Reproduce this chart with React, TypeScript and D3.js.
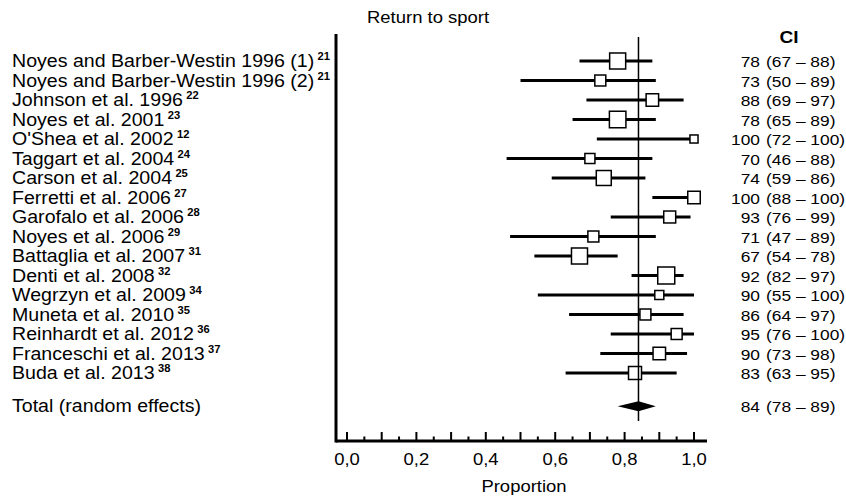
import React from "react";
import * as d3 from "d3";

// studies, in the order they appear
const studies = [
  "Noyes and Barber-Westin 1996 (1)",
  "Noyes and Barber-Westin 1996 (2)",
  "Johnson et al. 1996",
  "Noyes et al. 2001",
  "O'Shea et al. 2002",
  "Taggart et al. 2004",
  "Carson et al. 2004",
  "Ferretti et al. 2006",
  "Garofalo et al. 2006",
  "Noyes et al. 2006",
  "Battaglia et al. 2007",
  "Denti et al. 2008",
  "Wegrzyn et al. 2009",
  "Muneta et al. 2010",
  "Reinhardt et al. 2012",
  "Franceschi et al. 2013",
  "Buda et al. 2013",
];
const refs = ["21", "21", "22", "23", "12", "24", "25", "27", "28", "29", "31", "32", "34", "35", "36", "37", "38"];
const estimate = [78, 73, 88, 78, 100, 70, 74, 100, 93, 71, 67, 92, 90, 86, 95, 90, 83];
const lower = [67, 50, 69, 65, 72, 46, 59, 88, 76, 47, 54, 82, 55, 64, 76, 73, 63];
const upper = [88, 89, 97, 89, 100, 88, 86, 100, 99, 89, 78, 97, 100, 97, 100, 98, 95];
// relative study weights (box area)
const weights = [7.9, 3.7, 4.8, 8.4, 2.0, 3.1, 6.9, 4.8, 4.4, 3.7, 7.9, 8.9, 2.5, 3.7, 3.7, 4.8, 5.2];

const total = { label: "Total (random effects)", est: 84, lo: 78, hi: 89 };
const xTicks = [0, 0.2, 0.4, 0.6, 0.8, 1.0];

const W = 846;
const H = 498;
const FONT = "'Liberation Sans', Arial, sans-serif";
const SX = 1.12; // the original type is slightly wide

const Txt = ({ x, y, size, anchor = "start", weight = "normal", children }: any) => (
  <text
    transform={`translate(${x},${y}) scale(${SX},1)`}
    fontSize={size}
    textAnchor={anchor}
    fontWeight={weight}
    fill="#000"
  >
    {children}
  </text>
);

export default function App() {
  const x = d3.scaleLinear().domain([0, 1]).range([347, 694]);
  const y = d3.scaleLinear().domain([0, 16]).range([61, 373]);
  const box = d3.scaleSqrt().domain([0, d3.max(weights)!]).range([0, 17]);
  const totalY = y(17.7);
  const fmt = (v: number) => d3.format(".1f")(v).replace(".", ",");
  const allTicks = d3.range(0, 21).map((i) => i / 20);

  const axisLeft = 336;
  const axisY = 441;

  const diamond = d3.line()([
    [x(total.lo / 100), totalY],
    [x(total.est / 100), totalY - 5],
    [x(total.hi / 100), totalY],
    [x(total.est / 100), totalY + 5],
  ]) + "Z";

  return (
    <svg
      width={W}
      height={H}
      style={{ position: "absolute", left: 0, top: 0, background: "#fff" }}
      fontFamily={FONT}
    >
      <rect width={W} height={H} fill="#fff" />
      <Txt x={367} y={23} size={16.5}>Return to sport</Txt>
      <Txt x={789} y={43} size={17} anchor="middle" weight="bold">CI</Txt>

      {/* study labels */}
      {studies.map((s, i) => (
        <text
          key={s + i}
          transform={`translate(12,${y(i) + 6}) scale(${SX},1)`}
          fontSize={17.5}
          fill="#000"
        >
          {s}
          <tspan dx={3} dy={-7} fontSize={10} fontWeight="bold">{refs[i]}</tspan>
        </text>
      ))}
      <Txt x={12} y={totalY + 6} size={17.5}>{total.label}</Txt>

      {/* CI column */}
      {studies.map((s, i) => (
        <g key={"ci" + i}>
          <Txt x={760} y={y(i) + 6} size={15.5} anchor="end">{estimate[i]}</Txt>
          <Txt x={766} y={y(i) + 6} size={15.5}>{`(${lower[i]} – ${upper[i]})`}</Txt>
        </g>
      ))}
      <Txt x={760} y={totalY + 6} size={15.5} anchor="end">{total.est}</Txt>
      <Txt x={766} y={totalY + 6} size={15.5}>{`(${total.lo} – ${total.hi})`}</Txt>

      {/* confidence intervals and boxes */}
      {studies.map((s, i) => {
        const side = box(weights[i]);
        return (
          <g key={"m" + i}>
            <line
              x1={x(lower[i] / 100)}
              x2={x(upper[i] / 100)}
              y1={y(i)}
              y2={y(i)}
              stroke="#000"
              strokeWidth={3}
            />
            <rect
              x={x(estimate[i] / 100) - side / 2}
              y={y(i) - side / 2}
              width={side}
              height={side}
              fill="#fff"
              stroke="#000"
              strokeWidth={1.5}
            />
          </g>
        );
      })}

      <path d={diamond} fill="#000" />

      {/* pooled estimate reference line */}
      <line
        x1={x(total.est / 100)}
        x2={x(total.est / 100)}
        y1={37}
        y2={421}
        stroke="#000"
        strokeWidth={1.5}
      />

      {/* axes */}
      <line x1={axisLeft} x2={axisLeft} y1={34} y2={axisY + 1.5} stroke="#000" strokeWidth={3} />
      <line x1={axisLeft} x2={707} y1={axisY} y2={axisY} stroke="#000" strokeWidth={3} />
      {allTicks.map((t, i) => (
        <line
          key={"t" + i}
          x1={x(t)}
          x2={x(t)}
          y1={axisY}
          y2={axisY - (i % 2 === 0 ? 9 : 4.5)}
          stroke="#000"
          strokeWidth={2}
        />
      ))}
      {xTicks.map((t) => (
        <Txt key={"l" + t} x={x(t)} y={465} size={16.5} anchor="middle">{fmt(t)}</Txt>
      ))}
      <Txt x={524} y={492} size={16.5} anchor="middle">Proportion</Txt>
    </svg>
  );
}
